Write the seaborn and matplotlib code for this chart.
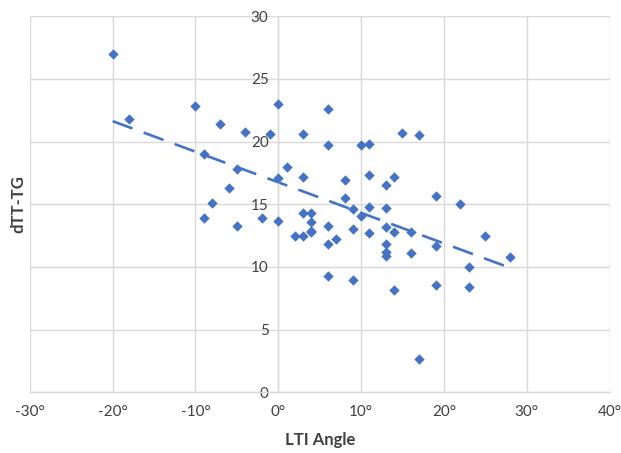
import numpy as np
import pandas as pd
import matplotlib
matplotlib.use("Agg")
import matplotlib.pyplot as plt
import seaborn as sns

# ---- data ----
lti_angle = [-20, -18, -10, -9, -9, -8, -7, -6, -5, -5, -4, -2, -1, 0, 0, 0, 1, 2,
             3, 3, 3, 3, 4, 4, 4, 4, 6, 6, 6, 6, 6, 7, 8, 8, 9, 9, 9, 10, 10,
             11, 11, 11, 11, 13, 13, 13, 13, 13, 13, 14, 14, 14, 15, 16, 16,
             17, 17, 19, 19, 19, 22, 23, 23, 25, 28]
dtt_tg = [27.0, 21.8, 22.8, 19.0, 13.9, 15.1, 21.4, 16.3, 17.8, 13.3, 20.8, 13.9, 20.6,
          23.0, 17.1, 13.7, 18.0, 12.5,
          20.6, 17.2, 14.3, 12.5, 14.3, 13.6, 12.9, 12.8, 22.6, 19.7, 13.3, 11.8, 9.3,
          12.2, 16.9, 15.5, 14.6, 13.0, 9.0, 19.7, 14.1,
          19.8, 17.3, 14.8, 12.7, 16.5, 14.7, 13.2, 11.8, 11.2, 10.9, 17.2, 12.8, 8.2,
          20.7, 12.8, 11.1, 20.5, 2.7, 15.7, 11.7, 8.6, 15.0, 10.0, 8.4, 12.5, 10.8]
x_ticks = [-30, -20, -10, 0, 10, 20, 30, 40]
y_ticks = [0, 5, 10, 15, 20, 25, 30]
x_label = "LTI Angle"
y_label = "dTT-TG"

df = pd.DataFrame({"x": lti_angle, "y": dtt_tg})

sns.set_style("white")
plt.rcParams["font.family"] = ["Lato", "DejaVu Sans"]

BLUE = "#4472C4"
GRID = "#d9d9d9"
TEXT = "#404040"

fig = plt.figure(figsize=(6.21, 4.53), dpi=100)
ax = fig.add_axes([0.0481, 0.1338, 0.9334, 0.8304])

sns.scatterplot(data=df, x="x", y="y", marker="D", s=28, color=BLUE,
                edgecolor=BLUE, linewidth=0, ax=ax, zorder=3)

# linear trend line
coef = np.polyfit(df["x"], df["y"], 1)
xs = np.array([df["x"].min(), df["x"].max()])
ax.plot(xs, np.polyval(coef, xs), color=BLUE, lw=1.9,
        linestyle=(0, (8, 4.5)), zorder=2)

ax.set_xlim(x_ticks[0], x_ticks[-1])
ax.set_ylim(y_ticks[0], y_ticks[-1])
ax.set_xticks(x_ticks)
ax.set_yticks(y_ticks)
ax.set_xticklabels([f"{v}°" for v in x_ticks])
ax.set_yticklabels([str(v) for v in y_ticks])

ax.grid(True, color=GRID, lw=1.0, zorder=0)
ax.set_axisbelow(True)

for s in ["top", "right"]:
    ax.spines[s].set_visible(False)
ax.spines["left"].set_position(("data", 0))
ax.spines["left"].set_color(GRID)
ax.spines["bottom"].set_color(GRID)
ax.spines["left"].set_linewidth(1.0)
ax.spines["bottom"].set_linewidth(1.0)

ax.tick_params(axis="both", direction="out", length=4, width=1.0,
               color=GRID, labelsize=11, labelcolor=TEXT)
ax.tick_params(axis="x", pad=5)
ax.tick_params(axis="y", pad=3)

ax.set_xlabel(x_label, fontsize=12, fontweight="bold", color=TEXT)
ax.set_ylabel(y_label, fontsize=12, fontweight="bold", color=TEXT)
ax.xaxis.set_label_coords(0.5005, -0.127)
ax.xaxis.label.set_verticalalignment("center")
ax.yaxis.set_label_coords(-0.0205, 0.5)
ax.yaxis.label.set_verticalalignment("center")

fig.savefig("out.png", dpi=100)
